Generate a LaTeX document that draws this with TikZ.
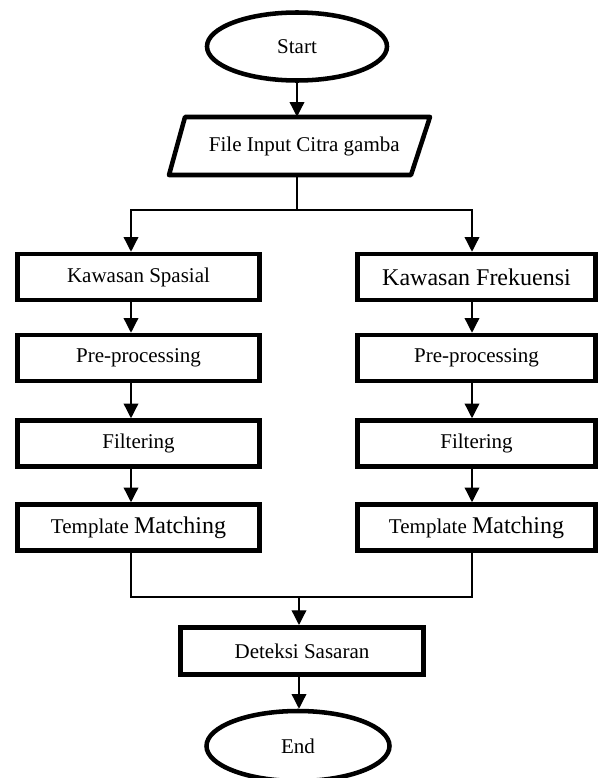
\documentclass[tikz,border=0pt]{standalone}
\usepackage{fontspec}
\setmainfont{Liberation Serif}
\usetikzlibrary{arrows.meta,shapes.geometric}
\newcommand{\smalltxt}{\fontsize{15.75}{18}\selectfont}
\newcommand{\bigtxt}{\fontsize{18}{20}\selectfont}
\begin{document}
\begin{tikzpicture}[x=0.75pt,y=-0.75pt,
  procbox/.style={draw,line width=3.4pt,minimum width=242.5*0.75pt,minimum height=46*0.75pt,inner sep=0pt,font=\smalltxt},
  termin/.style={draw,ellipse,line width=3.4pt,minimum width=180*0.75pt,minimum height=68*0.75pt,inner sep=0pt,font=\smalltxt},
  conn/.style={line width=1pt},
  arr/.style={conn,-{Triangle[width=11pt,length=11pt]}}]
\useasboundingbox (0,0) rectangle (600,778);
% terminals
\node[termin] (start) at (297,46.5) {Start};
% input parallelogram
\node[inner sep=0pt,minimum width=240*0.75pt,minimum height=58*0.75pt,font=\smalltxt] (input) at (299,146) {\hspace*{8pt}File Input Citra gamba};
\draw[line width=3.4pt,line join=round] (185,117) -- (430,117) -- (411,175) -- (169,175) -- cycle;
% columns
\coordinate (xl) at (131,0);
\coordinate (xr) at (472,0);
\node[procbox] (ks) at (138.5,277) {Kawasan Spasial};
\node[procbox] (pl) at (138.5,358) {Pre-processing};
\node[procbox] (fl) at (138.5,443.5) {Filtering};
\node[procbox] (tl) at (138.5,527.5) {Template \bigtxt Matching};
\node[procbox,minimum width=238.5*0.75pt] (kf) at (476.5,277) {\bigtxt Kawasan Frekuensi};
\node[procbox,minimum width=238.5*0.75pt] (pr) at (476.5,358) {Pre-processing};
\node[procbox,minimum width=238.5*0.75pt] (fr) at (476.5,443.5) {Filtering};
\node[procbox,minimum width=238.5*0.75pt] (tr) at (476.5,527.5) {Template \bigtxt Matching};
\node[procbox,minimum width=243.5*0.75pt,minimum height=47.5*0.75pt] (det) at (302,651) {Deteksi Sasaran};
\node[termin,minimum width=183*0.75pt,minimum height=70*0.75pt] (end) at (298,746) {End};
% connectors
\coordinate (split) at (297,210);
\coordinate (merge) at (299,597);
\draw[arr] (start.south) -- (start.south |- input.north);
\draw[conn] (split |- input.south) -- (split);
\draw[arr] (split) -| (xl |- ks.north);
\draw[arr] (split) -| (xr |- kf.north);
\draw[arr] (xl |- ks.south) -- (xl |- pl.north);
\draw[arr] (xl |- pl.south) -- (xl |- fl.north);
\draw[arr] (xl |- fl.south) -- (xl |- tl.north);
\draw[arr] (xr |- kf.south) -- (xr |- pr.north);
\draw[arr] (xr |- pr.south) -- (xr |- fr.north);
\draw[arr] (xr |- fr.south) -- (xr |- tr.north);
\draw[conn] (xl |- tl.south) |- (merge);
\draw[conn] (xr |- tr.south) |- (merge);
\draw[arr] (merge) -- (merge |- det.north);
\draw[arr] (det.south -| merge) -- (merge |- end.north);
\end{tikzpicture}
\end{document}
